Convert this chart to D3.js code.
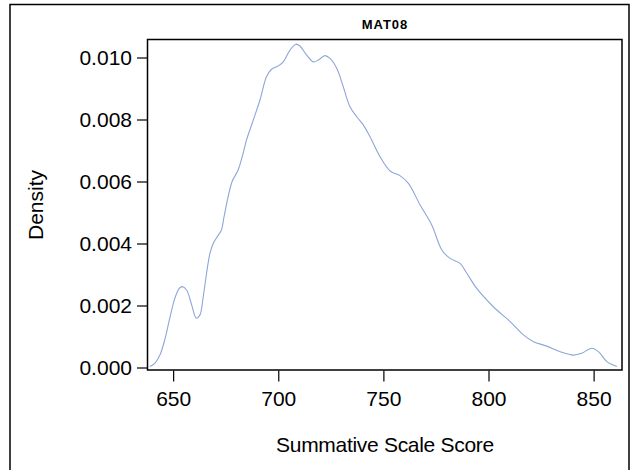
<!DOCTYPE html>
<html>
<head>
<meta charset="utf-8">
<script src="https://cdn.jsdelivr.net/npm/d3@7"></script>
<style>
  body { margin: 0; background: #fff; }
  svg text { font-family: "Liberation Sans", Arial, sans-serif; fill: #000; }
</style>
</head>
<body>
<svg id="chart" width="633" height="470"></svg>
<script>
// density curve
var scores = [638.9, 641.3, 643.7, 646.0, 648.4, 650.8, 652.9, 654.3, 656.4, 658.8,
  661.0, 662.7, 664.3, 665.9, 667.5, 669.1, 671.5, 673.0, 674.2, 678.0,
  680.9, 683.7, 684.9, 688.1, 691.3, 694.4, 696.8, 700.0, 702.4, 705.6,
  708.4, 710.3, 713.5, 716.7, 719.1, 722.2, 724.6, 727.8, 730.9, 734.1,
  737.3, 740.5, 743.6, 748.4, 753.2, 758.0, 761.9, 767.5, 773.0, 777.8,
  781.7, 786.5, 789.7, 794.4, 802.3, 810.3, 816.6, 821.4, 827.7, 834.1,
  840.4, 844.4, 849.1, 852.3, 856.3, 861.1];
var density = [0.00003, 0.000135, 0.0004, 0.00089, 0.00159, 0.00223, 0.00255, 0.00261, 0.0025, 0.00202,
  0.00159, 0.00169, 0.00228, 0.00304, 0.00368, 0.00401, 0.00427, 0.00444, 0.00486, 0.00599,
  0.00637, 0.00702, 0.00734, 0.00798, 0.00863, 0.00938, 0.00962, 0.00973, 0.00986, 0.01024,
  0.01043, 0.01037, 0.01008, 0.00986, 0.00992, 0.01006, 0.00997, 0.00965, 0.00906, 0.00841,
  0.00809, 0.00782, 0.00745, 0.0068, 0.00634, 0.00618, 0.00594, 0.00524, 0.0046, 0.00379,
  0.00352, 0.00336, 0.00304, 0.00255, 0.00196, 0.00148, 0.00105, 0.00083, 0.00069, 0.00051,
  0.0004, 0.00046, 0.00062, 0.00051, 0.00019, 0.00003];

var xTicks = [650, 700, 750, 800, 850];
var yTicks = [0.000, 0.002, 0.004, 0.006, 0.008, 0.010];

var title = "MAT08";
var xTitle = "Summative Scale Score";
var yTitle = "Density";

var svg = d3.select("#chart");

// plot box
var box = { l: 147.5, t: 39.5, r: 622, b: 370 };

var x = d3.scaleLinear().domain([637.8, 863.5]).range([box.l, box.r]);
var y = d3.scaleLinear().domain([0, 0.010]).range([367.5, 57.5]);

// outer frame
svg.append("rect")
  .attr("x", 10).attr("y", 4.5)
  .attr("width", 619).attr("height", 470)
  .attr("fill", "none").attr("stroke", "#000").attr("stroke-width", 1.5);

// curve
var pts = scores.map(function (d, i) { return [d, density[i]]; });
var line = d3.line()
  .x(function (d) { return x(d[0]); })
  .y(function (d) { return y(d[1]); })
  .curve(d3.curveCatmullRom.alpha(0.5));

svg.append("path")
  .datum(pts)
  .attr("d", line)
  .attr("fill", "none")
  .attr("stroke", "#8ea6d6")
  .attr("stroke-width", 1.1);

// box
svg.append("rect")
  .attr("x", box.l).attr("y", box.t)
  .attr("width", box.r - box.l).attr("height", box.b - box.t)
  .attr("fill", "none").attr("stroke", "#000").attr("stroke-width", 1.5);

// axes
var yAxis = d3.axisLeft(y).tickValues(yTicks).tickSize(10).tickPadding(5)
  .tickFormat(d3.format(".3f"));
var gy = svg.append("g")
  .attr("transform", "translate(" + (box.l - 0.5) + ",0)")
  .call(yAxis);
gy.select(".domain").remove();
gy.selectAll("text").style("font-size", "21px");
gy.selectAll("line").attr("stroke", "#000").attr("stroke-width", 1.2);

var xAxis = d3.axisBottom(x).tickValues(xTicks).tickSize(11).tickPadding(10);
var gx = svg.append("g")
  .attr("transform", "translate(0," + (box.b + 0.5) + ")")
  .call(xAxis);
gx.select(".domain").remove();
gx.selectAll("text").style("font-size", "21px");
gx.selectAll("line").attr("stroke", "#000").attr("stroke-width", 1.2);

// titles
svg.append("text")
  .attr("x", 385).attr("y", 28.5)
  .attr("text-anchor", "middle")
  .style("font-size", "13px").style("font-weight", "bold")
  .style("letter-spacing", "1px")
  .text(title);

svg.append("text")
  .attr("x", 385).attr("y", 451.5)
  .attr("text-anchor", "middle")
  .style("font-size", "21px")
  .style("letter-spacing", "-0.3px")
  .text(xTitle);

svg.append("text")
  .attr("transform", "translate(43,205) rotate(-90)")
  .attr("text-anchor", "middle")
  .style("font-size", "21px")
  .text(yTitle);
</script>
</body>
</html>
